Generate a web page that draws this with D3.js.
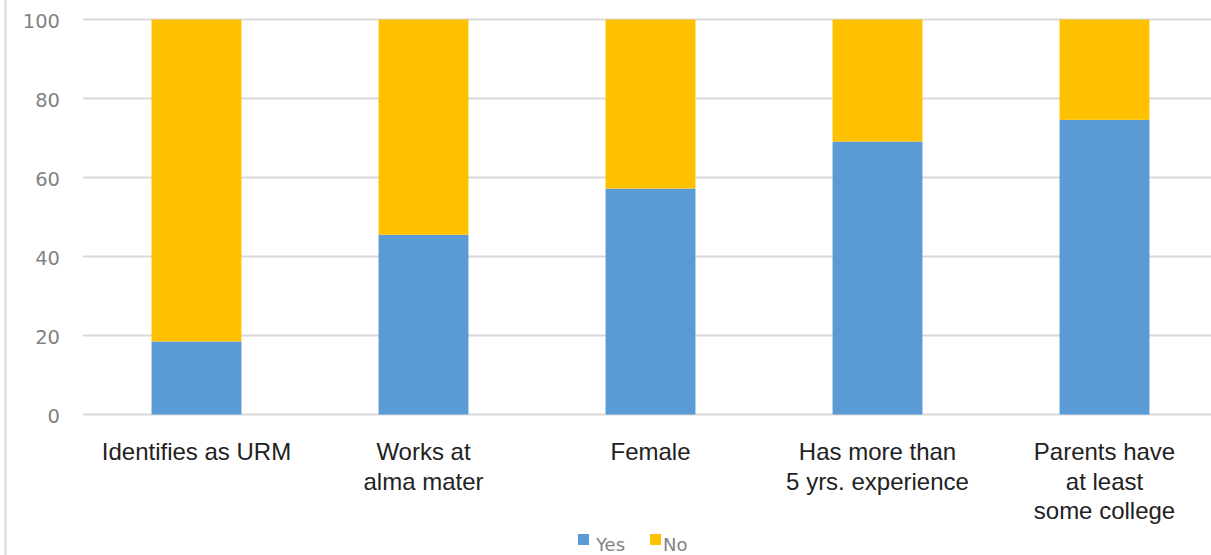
<!DOCTYPE html>
<html>
<head>
<meta charset="utf-8">
<script src="https://cdn.jsdelivr.net/npm/d3@7"></script>
<style>
  html, body { margin: 0; padding: 0; background: #fff; }
  svg { display: block; }
</style>
</head>
<body>
<div id="chart"></div>
<script>
const categories = [
  ["Identifies as URM"],
  ["Works at", "alma mater"],
  ["Female"],
  ["Has more than", "5 yrs. experience"],
  ["Parents have", "at least", "some college"]
];
const yesValues = [18.5, 45.5, 57.2, 69.1, 74.6];
const noValues = [81.5, 54.5, 42.8, 30.9, 25.4];
const seriesNames = ["Yes", "No"];
const seriesColors = ["#5B9BD5", "#FFC000"];
const yTicks = [0, 20, 40, 60, 80, 100];

const W = 1211, H = 555;
const svg = d3.select("#chart").append("svg").attr("width", W).attr("height", H);

// left border
svg.append("line").attr("x1", 5.5).attr("x2", 5.5).attr("y1", 0).attr("y2", H)
  .attr("stroke", "#d9d9d9").attr("stroke-width", 2);

const keys = categories.map((c, i) => i);
const x = d3.scaleBand().domain(keys).range([83, 1218]).paddingInner(0.604).paddingOuter(0.302);
const y = d3.scaleLinear().domain([0, 100]).range([414.5, 19.5]);

// gridlines
svg.append("g").selectAll("line").data(yTicks).join("line")
  .attr("x1", 83).attr("x2", W)
  .attr("y1", d => y(d)).attr("y2", d => y(d))
  .attr("stroke", "#d9d9d9").attr("stroke-width", 2);

// y axis labels
const yAxis = d3.axisLeft(y).tickValues(yTicks).tickSize(0).tickPadding(0);
const ya = svg.append("g").attr("transform", "translate(60,0)").call(yAxis);
ya.select(".domain").remove();
ya.selectAll("text")
  .attr("font-family", "DejaVu Sans, sans-serif")
  .attr("font-size", 19.5)
  .attr("fill", "#828282")
  .attr("dy", "0.4em");

// stacked data
const rows = keys.map(i => ({ key: i, Yes: yesValues[i], No: noValues[i] }));
const stack = d3.stack().keys(seriesNames)(rows);

svg.append("g").selectAll("g").data(stack).join("g")
  .attr("fill", (d, i) => seriesColors[i])
  .selectAll("rect").data(d => d).join("rect")
  .attr("x", d => x(d.data.key))
  .attr("width", x.bandwidth())
  .attr("y", d => y(d[1]))
  .attr("height", d => y(d[0]) - y(d[1]));

// category labels
const lab = svg.append("g").selectAll("text").data(keys).join("text")
  .attr("x", d => x(d) + x.bandwidth() / 2)
  .attr("y", 460)
  .attr("text-anchor", "middle")
  .attr("font-family", "Liberation Sans, Arial, sans-serif")
  .attr("font-size", 24)
  .attr("fill", "#222");
lab.selectAll("tspan").data(d => categories[d]).join("tspan")
  .attr("x", function() { return d3.select(this.parentNode).attr("x"); })
  .attr("dy", (d, i) => i === 0 ? 0 : 29.5)
  .text(d => d);

// legend
const legendX = [578, 650];
const lg = svg.append("g").selectAll("g").data(seriesNames).join("g")
  .attr("transform", (d, i) => `translate(${legendX[i]},534)`);
lg.append("rect").attr("width", 11).attr("height", 11).attr("fill", (d, i) => seriesColors[i]);
lg.append("text").attr("x", (d, i) => i === 0 ? 18 : 13).attr("y", 16.5)
  .attr("font-family", "DejaVu Sans, sans-serif")
  .attr("font-size", 18)
  .attr("fill", "#828282")
  .text(d => d);
</script>
</body>
</html>
